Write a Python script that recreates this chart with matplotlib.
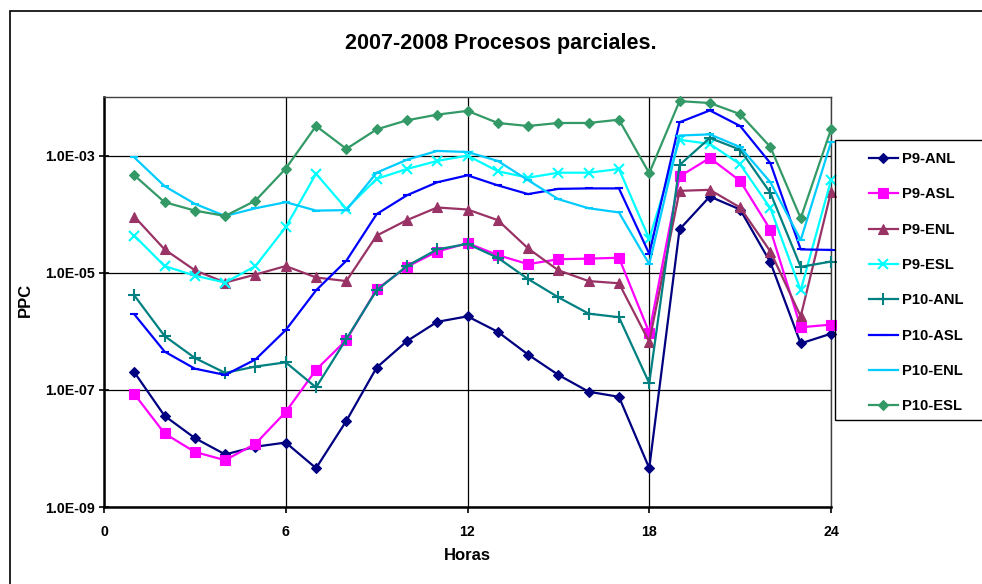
import matplotlib
matplotlib.use("Agg")
import matplotlib.pyplot as plt
from matplotlib.patches import Rectangle
from matplotlib.ticker import FixedLocator, FixedFormatter, NullLocator

plt.rcParams['font.family'] = ['Liberation Sans', 'DejaVu Sans']

hours = list(range(1, 25))

p9_anl = [2.0e-7, 3.6e-8, 1.5e-8, 7.9e-9, 1.07e-8, 1.26e-8, 4.6e-9, 2.95e-8, 2.4e-7, 6.8e-7, 1.45e-6, 1.8e-6,
          9.8e-7, 4.0e-7, 1.8e-7, 9.3e-8, 7.6e-8, 4.6e-9, 5.5e-5, 2.0e-4, 1.2e-4, 1.5e-5, 6.2e-7, 9.1e-7]
p9_asl = [8.5e-8, 1.8e-8, 8.7e-9, 6.3e-9, 1.2e-8, 4.2e-8, 2.2e-7, 7.1e-7, 5.2e-6, 1.26e-5, 2.3e-5, 3.2e-5,
          2.0e-5, 1.4e-5, 1.7e-5, 1.74e-5, 1.8e-5, 9.5e-7, 4.4e-4, 9.1e-4, 3.7e-4, 5.4e-5, 1.17e-6, 1.3e-6]
p9_enl = [9.1e-5, 2.5e-5, 1.1e-5, 6.8e-6, 9.3e-6, 1.3e-5, 8.3e-6, 7.2e-6, 4.3e-5, 7.9e-5, 1.3e-4, 1.2e-4,
          7.9e-5, 2.6e-5, 1.1e-5, 7.2e-6, 6.6e-6, 6.6e-7, 2.5e-4, 2.6e-4, 1.3e-4, 2.3e-5, 1.8e-6, 2.4e-4]
p9_esl = [4.3e-5, 1.3e-5, 8.9e-6, 6.8e-6, 1.3e-5, 6.0e-5, 4.9e-4, 1.23e-4, 4.0e-4, 5.9e-4, 8.1e-4, 1.0e-3,
          5.4e-4, 4.2e-4, 5.1e-4, 5.1e-4, 5.9e-4, 3.8e-5, 1.86e-3, 1.58e-3, 7.1e-4, 1.26e-4, 5.0e-6, 3.8e-4]
p10_anl = [4.1e-6, 8.3e-7, 3.5e-7, 1.95e-7, 2.5e-7, 2.95e-7, 1.1e-7, 7.4e-7, 5.0e-6, 1.3e-5, 2.5e-5, 3.1e-5,
           1.8e-5, 7.8e-6, 3.8e-6, 2.0e-6, 1.74e-6, 1.3e-7, 6.9e-4, 2.0e-3, 1.26e-3, 2.3e-4, 1.26e-5, 1.55e-5]
p10_asl = [1.95e-6, 4.5e-7, 2.3e-7, 1.8e-7, 3.3e-7, 1.05e-6, 5.0e-6, 1.6e-5, 1.0e-4, 2.1e-4, 3.5e-4, 4.6e-4,
           3.1e-4, 2.2e-4, 2.7e-4, 2.75e-4, 2.75e-4, 2.1e-5, 3.7e-3, 5.9e-3, 3.2e-3, 7.4e-4, 2.5e-5, 2.45e-5]
p10_enl = [9.3e-4, 3.0e-4, 1.5e-4, 9.3e-5, 1.26e-4, 1.6e-4, 1.15e-4, 1.17e-4, 5.1e-4, 8.5e-4, 1.2e-3, 1.15e-3,
           8.1e-4, 3.8e-4, 1.8e-4, 1.26e-4, 1.07e-4, 1.4e-5, 2.2e-3, 2.3e-3, 1.4e-3, 3.5e-4, 3.6e-5, 1.7e-3]
p10_esl = [4.6e-4, 1.6e-4, 1.15e-4, 9.3e-5, 1.7e-4, 6.0e-4, 3.2e-3, 1.3e-3, 2.8e-3, 4.0e-3, 5.0e-3, 5.8e-3,
           3.6e-3, 3.2e-3, 3.6e-3, 3.6e-3, 4.1e-3, 5.0e-4, 8.5e-3, 7.9e-3, 5.1e-3, 1.4e-3, 8.5e-5, 2.8e-3]

series_names = ["P9-ANL", "P9-ASL", "P9-ENL", "P9-ESL", "P10-ANL", "P10-ASL", "P10-ENL", "P10-ESL"]
series_values = [p9_anl, p9_asl, p9_enl, p9_esl, p10_anl, p10_asl, p10_enl, p10_esl]
colors = ["#000080", "#FF00FF", "#993366", "#00FFFF", "#008080", "#0000FF", "#00CCFF", "#339966"]
markers = ["D", "s", "^", "x", "+", "_", "_", "D"]
msizes = [5.5, 6.5, 7, 7, 8, 6, 6, 5.5]

x_ticks = [0, 6, 12, 18, 24]
x_tick_labels = ["0", "6", "12", "18", "24"]
y_ticks = [1e-9, 1e-7, 1e-5, 1e-3]
y_tick_labels = ["1.0E-09", "1.0E-07", "1.0E-05", "1.0E-03"]

W, H = 982, 584
fig = plt.figure(figsize=(W / 100, H / 100), dpi=100)
fig.patch.set_facecolor("white")

# outer chart frame (cropped at right and bottom)
fig.patches.append(Rectangle((10 / W, -0.2), 1.2, (H - 11) / H + 0.2, transform=fig.transFigure,
                             fill=False, ec="black", lw=1.2, zorder=0))

ax = fig.add_axes([104 / W, (H - 507) / H, (831 - 104) / W, (507 - 97) / H])
ax.set_yscale("log")

for vals, name, c, m, ms in zip(series_values, series_names, colors, markers, msizes):
    ax.plot(hours, vals, color=c, marker=m, markersize=ms, lw=1.6, label=name,
            markeredgewidth=1.5 if m in ("x", "+", "_") else 0.8, clip_on=False, zorder=3)

ax.set_xlim(0, 24)
ax.set_ylim(1e-9, 1e-2)
ax.xaxis.set_major_locator(FixedLocator(x_ticks))
ax.xaxis.set_major_formatter(FixedFormatter(x_tick_labels))
ax.yaxis.set_major_locator(FixedLocator(y_ticks))
ax.yaxis.set_major_formatter(FixedFormatter(y_tick_labels))
ax.yaxis.set_minor_locator(NullLocator())
ax.xaxis.set_minor_locator(NullLocator())

ax.grid(True, which="major", color="black", lw=0.9)
ax.set_axisbelow(True)
for s in ("left", "bottom"):
    ax.spines[s].set_linewidth(1.8)
    ax.spines[s].set_color("black")
for s in ("top", "right"):
    ax.spines[s].set_linewidth(1.0)
    ax.spines[s].set_color("#404040")

ax.tick_params(axis="y", direction="inout", length=7, width=1.2, labelsize=10.2, pad=3)
ax.tick_params(axis="x", direction="out", length=4, width=1.2, labelsize=10.2, pad=9)
for lab in ax.get_xticklabels() + ax.get_yticklabels():
    lab.set_fontweight("bold")

fig.text(501 / W, 1 - 43 / H, "2007-2008 Procesos parciales.", ha="center", va="center",
         fontsize=15.5, fontweight="bold")
fig.text(467 / W, 1 - 556 / H, "Horas", ha="center", va="center", fontsize=12, fontweight="bold")
fig.text(25 / W, 1 - 300 / H, "PPC", ha="center", va="center", rotation=90, fontsize=12,
         fontweight="bold")

# legend frame (cropped at right)
fig.patches.append(Rectangle((835 / W, 1 - 420 / H), 0.3, (420 - 140) / H, transform=fig.transFigure,
                             fill=False, ec="black", lw=1.0, zorder=1))
handles, labels = ax.get_legend_handles_labels()
leg = fig.legend(handles, labels, loc="upper left", bbox_to_anchor=(869 / W, 1 - 152 / H),
                 frameon=False, prop={"weight": "bold", "size": 10.6},
                 handlelength=1.95, handletextpad=0.3, labelspacing=1.45, borderpad=0,
                 borderaxespad=0)

fig.savefig("out.png", dpi=100)
